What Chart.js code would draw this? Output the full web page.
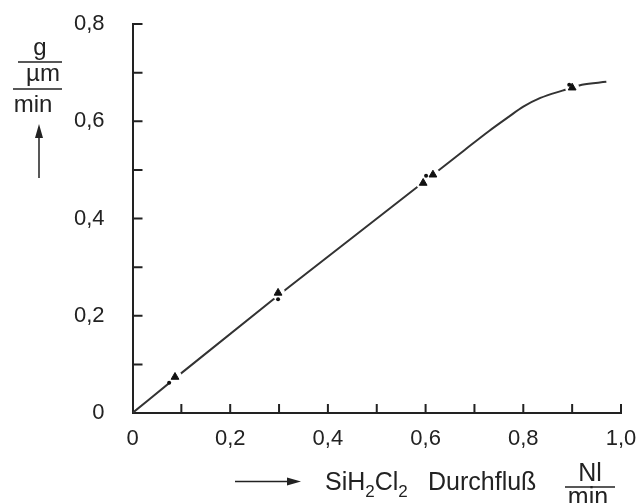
<!DOCTYPE html>
<html>
<head>
<meta charset="utf-8">
<script src="https://cdn.jsdelivr.net/npm/chart.js@4"></script>
<style>
  body { margin: 0; background: #fff; }
  #wrap { width: 637px; height: 503px; }
</style>
</head>
<body>
<div id="wrap"><canvas id="chart"></canvas></div>
<script>
// curve (x = Durchfluss Nl/min, y = g/µm/min)
let curveX = [0, 0.1, 0.3, 0.6, 0.68, 0.73, 0.77, 0.8, 0.835, 0.88, 0.92, 0.97]
let curveY = [0, 0.082, 0.243, 0.478, 0.541, 0.58, 0.609, 0.63, 0.648, 0.663, 0.675, 0.681]

// measured points
let triX = [0.087, 0.298, 0.595, 0.615, 0.9]
let triY = [0.074, 0.247, 0.473, 0.49, 0.669]
let dotX = [0.075, 0.298, 0.601, 0.894]
let dotY = [0.062, 0.234, 0.488, 0.675]

let xTicks = [0, 0.2, 0.4, 0.6, 0.8, 1.0]
let yTicks = [0, 0.2, 0.4, 0.6, 0.8]

const ink = '#222'
const tickFont = { family: 'Liberation Sans', size: 22 }

function pts(xs, ys) {
  return xs.map((x, i) => ({ x: x, y: ys[i] }))
}
function fmt(v) {
  return v === 0 ? '0' : v.toFixed(1).replace('.', ',')
}
// keep the plot box where the reference has it
function noPad(s) {
  s.paddingTop = 0; s.paddingBottom = 0; s.paddingLeft = 0; s.paddingRight = 0
}

// inward ticks every 0.1 plus the hand lettered axis titles
const axisDeco = {
  id: 'axisDeco',
  afterDraw(chart) {
    const ctx = chart.ctx
    const xs = chart.scales.x, ys = chart.scales.y
    const a = chart.chartArea
    ctx.save()
    ctx.strokeStyle = ink
    ctx.fillStyle = ink
    ctx.lineWidth = 2
    ctx.beginPath()
    for (let i = 1; i <= 10; i++) {
      let px = xs.getPixelForValue(i / 10)
      ctx.moveTo(px, a.bottom)
      ctx.lineTo(px, a.bottom - 9)
    }
    for (let i = 1; i <= 8; i++) {
      let py = ys.getPixelForValue(i / 10)
      ctx.moveTo(a.left, py)
      ctx.lineTo(a.left + 10, py)
    }
    ctx.stroke()

    // x title
    ctx.textBaseline = 'alphabetic'
    ctx.textAlign = 'left'
    let big = '25px "Liberation Sans"', small = '17px "Liberation Sans"'
    let cx = 325, base = 490
    const parts = [['Si', big, 0], ['H', big, 0], ['2', small, 7], ['Cl', big, 0], ['2', small, 7]]
    parts.forEach(p => {
      ctx.font = p[1]
      ctx.fillText(p[0], cx, base + p[2])
      cx += ctx.measureText(p[0]).width
    })
    ctx.font = big
    ctx.fillText('Durchfluß', 428, base)
    ctx.textAlign = 'center'
    ctx.fillText('Nl', 590, 481)
    ctx.fillText('min', 588, 505)
    ctx.lineWidth = 1.5
    ctx.beginPath()
    ctx.moveTo(565, 487); ctx.lineTo(615, 487)
    // x arrow
    ctx.moveTo(235, 481.5); ctx.lineTo(292, 481.5)
    // y fraction lines
    ctx.moveTo(18, 62); ctx.lineTo(62, 62)
    ctx.moveTo(13, 89); ctx.lineTo(62, 89)
    // y arrow
    ctx.moveTo(39, 178); ctx.lineTo(39, 132)
    ctx.stroke()
    ctx.beginPath()
    ctx.moveTo(301, 481.5); ctx.lineTo(287, 477.5); ctx.lineTo(287, 485.5); ctx.closePath()
    ctx.moveTo(39, 124); ctx.lineTo(35, 138); ctx.lineTo(43, 138); ctx.closePath()
    ctx.fill()

    ctx.font = '24px "Liberation Sans"'
    ctx.fillText('g', 40, 55)
    ctx.fillText('µm', 43, 81)
    ctx.fillText('min', 33, 112)
    ctx.restore()
  }
}

new Chart('chart', {
  type: 'scatter',
  data: {
    datasets: [
      {
        label: 'dots',
        data: pts(dotX, dotY),
        pointStyle: 'circle',
        pointRadius: 2,
        backgroundColor: '#111',
        borderWidth: 0,
        order: 0
      },
      {
        label: 'triangles',
        data: pts(triX, triY),
        pointStyle: 'triangle',
        pointRadius: 4.5,
        backgroundColor: '#111',
        borderColor: '#111',
        borderWidth: 1,
        order: 1
      },
      {
        label: 'gaps',
        data: pts(triX, triY),
        pointStyle: 'circle',
        pointRadius: 7,
        backgroundColor: '#fff',
        borderWidth: 0,
        order: 2
      },
      {
        label: 'curve',
        data: pts(curveX, curveY),
        showLine: true,
        borderColor: '#333',
        borderWidth: 2,
        pointRadius: 0,
        cubicInterpolationMode: 'monotone',
        order: 3
      }
    ]
  },
  options: {
    responsive: true,
    maintainAspectRatio: false,
    animation: false,
    layout: { padding: { left: 0, right: 16, top: 24, bottom: 0 } },
    plugins: { legend: { display: false }, tooltip: { enabled: false } },
    scales: {
      x: {
        type: 'linear',
        min: 0,
        max: 1,
        afterBuildTicks: s => { s.ticks = xTicks.map(v => ({ value: v })) },
        afterFit: s => { s.height = 90; noPad(s) },
        grid: { display: false, drawTicks: false },
        border: { display: true, color: ink, width: 2 },
        ticks: { color: ink, font: tickFont, padding: 13, maxRotation: 0, callback: v => fmt(v) }
      },
      y: {
        type: 'linear',
        min: 0,
        max: 0.8,
        afterBuildTicks: s => { s.ticks = yTicks.map(v => ({ value: v })) },
        afterFit: s => { s.width = 132.5; noPad(s) },
        grid: { display: false, drawTicks: false },
        border: { display: true, color: ink, width: 2 },
        ticks: { color: ink, font: tickFont, padding: 28, callback: v => fmt(v) }
      }
    }
  },
  plugins: [axisDeco]
})
</script>
</body>
</html>
